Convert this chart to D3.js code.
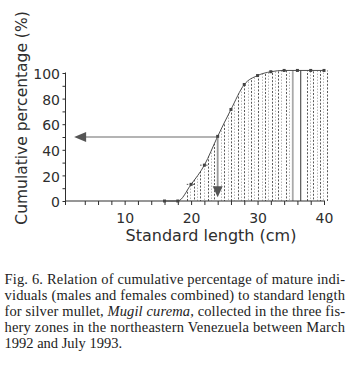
<!DOCTYPE html>
<html><head><meta charset="utf-8">
<script src="https://cdn.jsdelivr.net/npm/d3@7"></script>
<style>html,body{margin:0;padding:0;background:#fff;}svg{display:block;}</style>
</head><body>
<script>
// ---- data ----
const lengths = [16, 18, 20, 22, 24, 26, 28, 30, 32, 34, 36, 38, 40];
const cumPct  = [0, 0, 13, 28, 50.5, 71.5, 91, 98, 101, 102, 102, 102, 102];
const xTicks = [4, 6, 8, 10, 12, 14, 16, 18, 20, 22, 24, 26, 28, 30, 32, 34, 36, 38, 40];
const xTickLabels = [10, 20, 30, 40];
const yTicks = [0, 10, 20, 30, 40, 50, 60, 70, 80, 90, 100];
const yTickLabels = [0, 20, 40, 60, 80, 100];
const dropLengths = [19.35, 19.9, 20.5, 20.9, 21.35, 21.9, 22.5, 23.0, 23.5, 24.5, 25.0, 25.5, 26.0,
  26.5, 27.0, 27.5, 28.0, 28.5, 29.0, 29.47, 30.0, 30.6, 31.1, 31.6, 32.1, 32.6, 33.1, 33.6,
  34.3, 34.8, 37.4, 37.9, 38.3, 38.9, 39.4, 39.9, 40.5];
const solidLengths = [35.3, 36.5];
const barTopClasses = [20, 22];
const medianLength = 24;
const medianPct = 50;
const arrowLeftEnd = 2.4;
const arrowDownEnd = 3;
const xTitle = "Standard length (cm)";
const yTitle = "Cumulative percentage (%)";
const captionLines = [
  [["Fig. 6. Relation of cumulative percentage of mature indi-", false]],
  [["viduals (males and females combined) to standard length", false]],
  [["for silver mullet, ", false], ["Mugil curema", true], [", collected in the three fis-", false]],
  [["hery zones in the northeastern Venezuela between March", false]],
  [["1992 and July 1993.", false]]
];

// ---- drawing ----
const W = 349, H = 365;
const svg = d3.select("body").append("svg").attr("width", W).attr("height", H);
const x = d3.scaleLinear().domain([1.1, 40]).range([65.5, 324]);
const y = d3.scaleLinear().domain([0, 100]).range([201, 73]);
const ink = "#2e2e2e";
const pts = lengths.map((l, i) => [l, cumPct[i]]);

// clip region = area under the curve
const area = d3.area().x(d => x(d[0])).y0(y(0)).y1(d => y(d[1])).curve(d3.curveMonotoneX);
svg.append("defs").append("clipPath").attr("id", "under")
  .append("path").attr("d", area([[lengths[0], 0], ...pts, [41, cumPct[cumPct.length - 1]]]));

// dotted drop lines
svg.append("g").attr("clip-path", "url(#under)")
  .selectAll("line").data(dropLengths).join("line")
  .attr("x1", d => Math.round(x(d)) + 0.5).attr("x2", d => Math.round(x(d)) + 0.5)
  .attr("y1", y(0)).attr("y2", y(110))
  .attr("stroke", (d, i) => i % 2 ? "#b8b8b8" : "#5a5a5a")
  .attr("stroke-width", 1)
  .attr("stroke-dasharray", (d, i) => i % 2 ? "1.5,1.5" : "2,1.6")
  .attr("stroke-dashoffset", (d, i) => i % 3);

// small bar tops
svg.append("g").selectAll("line").data(barTopClasses).join("line")
  .attr("x1", d => x(d - 0.65)).attr("x2", d => x(d + 0.5))
  .attr("y1", d => y(cumPct[lengths.indexOf(d)])).attr("y2", d => y(cumPct[lengths.indexOf(d)]))
  .attr("stroke", "#555").attr("stroke-dasharray", "1.5,1.5");

// solid lines
svg.append("g").attr("clip-path", "url(#under)")
  .selectAll("line").data(solidLengths).join("line")
  .attr("x1", d => x(d)).attr("x2", d => x(d))
  .attr("y1", y(0)).attr("y2", y(110))
  .attr("stroke", (d, i) => i ? "#333" : "#aaa")
  .attr("stroke-width", (d, i) => i ? 1 : 1.8);

// axes
const xAxis = d3.axisBottom(x).tickValues(xTicks).tickSize(4).tickSizeOuter(0).tickPadding(8)
  .tickFormat(d => xTickLabels.includes(d) ? d : "");
const gx = svg.append("g").attr("transform", `translate(0,${y(0)})`).call(xAxis);
gx.select(".domain").remove();
gx.selectAll(".tick line").attr("stroke", ink);
gx.selectAll("text").attr("font-family", "DejaVu Sans").attr("font-size", 14).attr("fill", ink);
svg.append("line").attr("x1", x(1.1)).attr("x2", x(40) + 1).attr("y1", y(0)).attr("y2", y(0))
  .attr("stroke", ink).attr("stroke-width", 1);

const yAxis = d3.axisLeft(y).tickValues(yTicks).tickSize(3).tickSizeOuter(0).tickPadding(2.5)
  .tickFormat(d => yTickLabels.includes(d) ? d : "");
const gy = svg.append("g").attr("transform", `translate(${x(1.1)},0)`).call(yAxis);
gy.select(".domain").remove();
gy.selectAll(".tick line").attr("stroke", ink);
gy.selectAll("text").attr("font-family", "DejaVu Sans").attr("font-size", 14).attr("fill", ink)
  .attr("dy", "0.4em");
svg.append("line").attr("x1", x(1.1)).attr("x2", x(1.1)).attr("y1", y(0) + 4).attr("y2", y(100) - 0.5)
  .attr("stroke", ink).attr("stroke-width", 1);

// curve
const line = d3.line().x(d => x(d[0])).y(d => y(d[1])).curve(d3.curveMonotoneX);
svg.append("path").attr("d", line(pts)).attr("fill", "none").attr("stroke", "#3a3a3a").attr("stroke-width", 0.9);

// median arrows
const mx = x(medianLength), my = y(medianPct);
svg.append("line").attr("x1", mx).attr("x2", x(arrowLeftEnd) + 10).attr("y1", my).attr("y2", my)
  .attr("stroke", "#6a6a6a").attr("stroke-width", 1.1);
const lx = x(arrowLeftEnd);
svg.append("path").attr("d", `M${lx},${my}L${lx + 12},${my - 5}L${lx + 12},${my + 5}Z`).attr("fill", "#555");
const dy = y(arrowDownEnd);
svg.append("line").attr("x1", mx).attr("x2", mx).attr("y1", my).attr("y2", dy - 9)
  .attr("stroke", "#9a9a9a").attr("stroke-width", 1.8);
svg.append("path").attr("d", `M${mx},${dy}L${mx - 5},${dy - 11}L${mx + 5},${dy - 11}Z`).attr("fill", "#555");

// markers
svg.append("g").selectAll("rect").data(pts).join("rect")
  .attr("x", d => x(d[0]) - 1.5).attr("y", d => y(d[1]) - 1.5)
  .attr("width", 3).attr("height", 3).attr("fill", "#444");

// titles
svg.append("text").attr("x", 211).attr("y", 241)
  .attr("text-anchor", "middle").attr("font-family", "DejaVu Sans").attr("font-size", 16)
  .attr("fill", ink).text(xTitle);
svg.append("text").attr("transform", "translate(27,118) rotate(-90)")
  .attr("text-anchor", "middle").attr("font-family", "DejaVu Sans").attr("font-size", 15.5)
  .attr("fill", ink).text(yTitle);

// caption
captionLines.forEach((parts, i) => {
  const t = svg.append("text").attr("x", 4.5).attr("y", 284 + i * 16)
    .attr("font-family", "Liberation Serif").attr("font-size", 14.5).attr("fill", "#222");
  if (i < captionLines.length - 1) t.attr("textLength", 340.5).attr("lengthAdjust", "spacing");
  parts.forEach(([s, it]) => t.append("tspan").attr("font-style", it ? "italic" : "normal").text(s));
});
</script>
</body></html>
